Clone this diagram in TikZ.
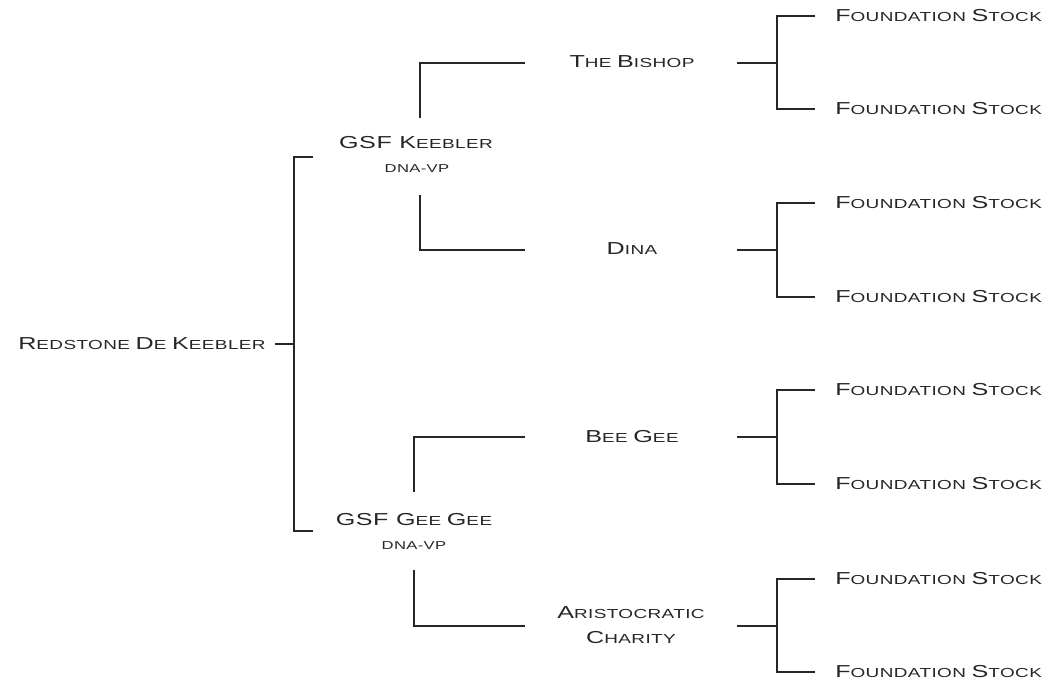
\documentclass[tikz,border=0pt]{standalone}
\usepackage{fontspec}
\newfontfamily\cpfont[FakeStretch=1.45, LetterSpace=3]{Liberation Sans}
\newcommand\fc[1]{{\fontsize{13}{15}\selectfont #1}}
\tikzset{
  horse/.style={font=\cpfont\fontsize{9.8}{13}\selectfont, inner sep=0pt, align=center, text=black!85},
  tag/.style={font=\cpfont\fontsize{8.6}{9}\selectfont, inner sep=0pt, text=black!85},
  link/.style={line width=0.9pt, draw=black!85}
}
\begin{document}
\begin{tikzpicture}[x=0.75pt, y=-0.75pt]
\useasboundingbox (0,0) rectangle (1053,686);

% sire line
\node[horse] (root) at (142,344) {\fc{R}EDSTONE \fc{D}E \fc{K}EEBLER};
\coordinate (rootend) at (275,344);
\coordinate (fork) at (294,344);
\draw[link] (rootend) -- (fork);
\draw[link] (313,157) -- (294,157) -- (294,531) -- (313,531);

\node[horse] (keebler) at (416,143) {\fc{GSF K}EEBLER};
\node[tag] (keeblertag) at (417,169) {DNA-VP};
\node[horse] (geegee) at (414,520) {\fc{GSF G}EE \fc{G}EE};
\node[tag] (geegeetag) at (414,546) {DNA-VP};

\draw[link] (420,118) |- (525,63);
\draw[link] (420,195) |- (525,250);
\draw[link] (414,492) |- (525,437);
\draw[link] (414,570) |- (525,626);

\node[horse] (bishop) at (632,62) {\fc{T}HE \fc{B}ISHOP};
\node[horse] (dina) at (632,249) {\fc{D}INA};
\node[horse] (beegee) at (632,437) {\fc{B}EE \fc{G}EE};
\node[horse] (charity) at (631,625) {\fc{A}RISTOCRATIC\\[6pt]\fc{C}HARITY};

% foundation stock
\foreach \i/\y in {1/16, 2/109, 3/203, 4/297, 5/390, 6/484, 7/579, 8/672}
  \node[horse, anchor=west] (fs\i) at (835,\y) {\fc{F}OUNDATION \fc{S}TOCK};

\foreach \y/\a/\b in {63/1/2, 250/3/4, 437/5/6, 626/7/8} {
  \draw[link] (737,\y) -- (777,\y);
  \draw[link] ([xshift=-15pt]fs\a.west) -| (777,\y) |- ([xshift=-15pt]fs\b.west);
}
\end{tikzpicture}
\end{document}
